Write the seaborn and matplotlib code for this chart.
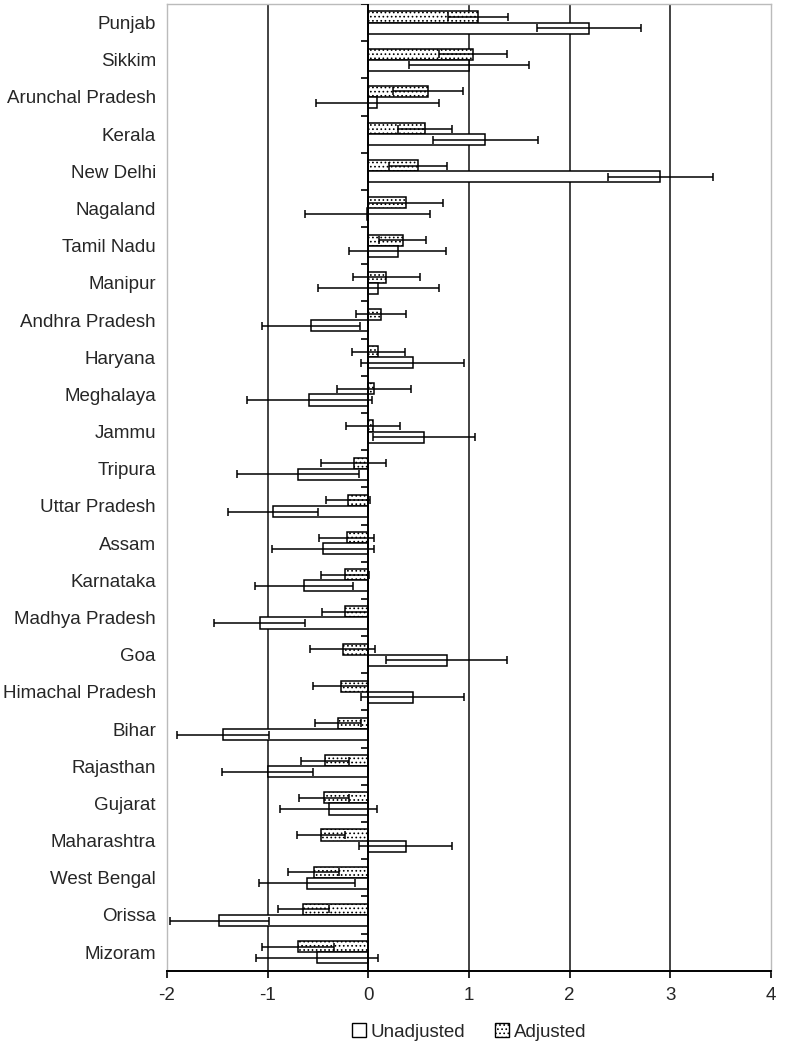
import numpy as np
import pandas as pd
import matplotlib
matplotlib.use("Agg")
import matplotlib.pyplot as plt
from matplotlib.patches import Patch
import seaborn as sns

states = ["Punjab", "Sikkim", "Arunchal Pradesh", "Kerala", "New Delhi", "Nagaland",
          "Tamil Nadu", "Manipur", "Andhra Pradesh", "Haryana", "Meghalaya", "Jammu",
          "Tripura", "Uttar Pradesh", "Assam", "Karnataka", "Madhya Pradesh", "Goa",
          "Himachal Pradesh", "Bihar", "Rajasthan", "Gujarat", "Maharashtra",
          "West Bengal", "Orissa", "Mizoram"]

adjusted = [1.09, 1.04, 0.59, 0.565, 0.49, 0.37, 0.34, 0.18, 0.125, 0.10, 0.055, 0.045,
            -0.145, -0.20, -0.215, -0.235, -0.23, -0.255, -0.275, -0.30, -0.43, -0.44,
            -0.47, -0.545, -0.645, -0.70]
adjusted_err = [0.30, 0.34, 0.35, 0.27, 0.29, 0.37, 0.23, 0.33, 0.245, 0.265, 0.365, 0.265,
                0.325, 0.22, 0.275, 0.24, 0.23, 0.325, 0.275, 0.23, 0.24, 0.25, 0.24,
                0.255, 0.255, 0.36]
unadjusted = [2.19, 1.0, 0.09, 1.16, 2.90, -0.01, 0.29, 0.10, -0.57, 0.44, -0.585, 0.555,
              -0.695, -0.945, -0.45, -0.64, -1.08, 0.78, 0.44, -1.445, -1.0, -0.395, 0.37,
              -0.61, -1.48, -0.51]
unadjusted_err = [0.515, 0.6, 0.61, 0.52, 0.52, 0.62, 0.48, 0.6, 0.485, 0.51, 0.625, 0.505,
                  0.605, 0.445, 0.51, 0.49, 0.45, 0.6, 0.51, 0.455, 0.45, 0.485, 0.46,
                  0.48, 0.49, 0.61]

groups = ["Adjusted", "Unadjusted"]
x_ticks = [-2, -1, 0, 1, 2, 3, 4]

df = pd.DataFrame({
    "state": states * 2,
    "group": ["Adjusted"] * len(states) + ["Unadjusted"] * len(states),
    "value": adjusted + unadjusted,
})
errs = {"Adjusted": adjusted_err, "Unadjusted": unadjusted_err}

sns.set_style("white")
plt.rcParams["font.family"] = ["Liberation Sans", "DejaVu Sans"]
plt.rcParams["hatch.linewidth"] = 0.7

fig = plt.figure(figsize=(7.86, 10.5), dpi=100)
ax = fig.add_axes([0.2125, 0.0755, 0.7685, 0.9207])

sns.barplot(data=df, y="state", x="value", hue="group", hue_order=groups,
            order=states, orient="h", width=0.6, legend=False, ax=ax,
            errorbar=None, saturation=1)

for cont, g in zip(ax.containers, groups):
    for bar, e in zip(cont, errs[g]):
        bar.set_facecolor("white")
        bar.set_edgecolor("black")
        bar.set_linewidth(1.1)
        if g == "Adjusted":
            bar.set_hatch("....")
        xe = bar.get_x() + bar.get_width()
        ye = bar.get_y() + bar.get_height() / 2
        ax.errorbar(xe, ye, xerr=e, fmt="none", ecolor="black",
                    elinewidth=1.1, capsize=3, capthick=1.1, zorder=3)

ax.set_xlim(-2, 4)
ax.set_ylim(len(states) - 0.5, -0.5)
ax.set_xticks(x_ticks)
ax.set_xticklabels([str(t) for t in x_ticks], fontsize=13.5)
ax.tick_params(axis="x", direction="out", length=5, width=1.2, color="black",
               bottom=True, pad=7)
ax.tick_params(axis="y", length=0, pad=8, labelsize=13.5)
ax.set_xlabel("")
ax.set_ylabel("")

for xv in [-1, 1, 2, 3]:
    ax.axvline(xv, color="#222222", lw=1.2, zorder=0)
ax.axvline(0, color="black", lw=1.4, zorder=4)

# little category ticks on the zero line
bounds = np.arange(len(states) + 1) - 0.5
ax.plot(np.zeros(len(bounds)), bounds, ls="none", marker=0, markersize=5,
        markeredgewidth=1.2, color="black", zorder=4)

for side in ["left", "top", "right"]:
    ax.spines[side].set_color("#bbbbbb")
    ax.spines[side].set_linewidth(1.0)
ax.spines["bottom"].set_color("black")
ax.spines["bottom"].set_linewidth(1.4)

handles = [Patch(facecolor="white", edgecolor="black", lw=1.0, label="Unadjusted"),
           Patch(facecolor="white", edgecolor="black", lw=1.0, hatch="....", label="Adjusted")]
fig.legend(handles=handles, loc="center", bbox_to_anchor=(0.597, 0.017), ncol=2,
           frameon=False, fontsize=13.5, handlelength=0.75, handleheight=0.75,
           handletextpad=0.25, columnspacing=1.6)

fig.savefig("out.png", dpi=100)
